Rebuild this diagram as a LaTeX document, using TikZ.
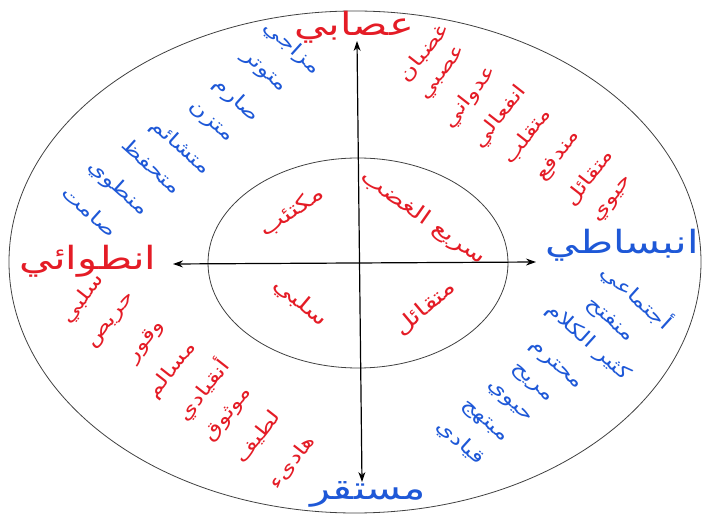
\documentclass[tikz,border=0pt]{standalone}
\usepackage{fontspec}
\usetikzlibrary{arrows.meta}
\newfontfamily\arabicfont[Script=Arabic,FakeStretch=1.3]{DejaVu Sans}
\TeXXeTstate=1
\newcommand{\ar}[1]{{\arabicfont\beginR #1\endR}}
\definecolor{tred}{RGB}{228,28,38}
\definecolor{tblue}{RGB}{30,88,215}

\begin{document}
\begin{tikzpicture}[x=1pt,y=-1pt,
    pole/.style={font=\fontsize{32}{37}\selectfont, inner sep=0pt},
    inword/.style={text=tred, font=\fontsize{21}{24}\selectfont, inner sep=0pt},
    trait/.style={font=\fontsize{19}{22}\selectfont, inner sep=0pt},
    ring/.style={draw=black!75, line width=0.8pt},
    axis/.style={line width=1.2pt, {Stealth[length=10pt,width=7pt]}-{Stealth[length=10pt,width=7pt]}}]
    \useasboundingbox (0,0) rectangle (705,518);

    % rings
    \draw[ring] (355,262) ellipse [x radius=346pt, y radius=251pt];
    \draw[ring] (358,263) ellipse [x radius=150pt, y radius=105pt];

    % axes
    \coordinate (ntip) at (357,41);
    \coordinate (stip) at (362,482);
    \coordinate (wtip) at (173,264);
    \coordinate (etip) at (536,262);
    \draw[axis] (ntip) -- (stip);
    \draw[axis] (wtip) -- (etip);

    % poles
    \node[pole, text=tred] (neuro) at (354,27) {\ar{عصابي}};
    \node[pole, text=tred] (intro) at (88,261) {\ar{انطوائي}};
    \node[pole, text=tblue] (extra) at (622,245) {\ar{انبساطي}};
    \node[pole, text=tblue] (stable) at (368,494) {\ar{مستقر}};

    % inner quadrants
    \node[inword, rotate=35] (q1) at (292,212) {\ar{مكتئب}};
    \node[inword, rotate=-35] (q2) at (423,218) {\ar{سريع الغضب}};
    \node[inword, rotate=-40] (q3) at (300,303) {\ar{سلبي}};
    \node[inword, rotate=40] (q4) at (425,308) {\ar{متقائل}};

    % upper left
    \node[trait, text=tblue, rotate=-42] (ul1) at (292,48) {\ar{مزاجي}};
    \node[trait, text=tblue, rotate=-42] (ul2) at (263,73) {\ar{متوتر}};
    \node[trait, text=tblue, rotate=-42] (ul3) at (236,100) {\ar{صارم}};
    \node[trait, text=tblue, rotate=-42] (ul4) at (210,123) {\ar{متزن}};
    \node[trait, text=tblue, rotate=-42] (ul5) at (180,147) {\ar{متشائم}};
    \node[trait, text=tblue, rotate=-42] (ul6) at (152,166) {\ar{متحفظ}};
    \node[trait, text=tblue, rotate=-42] (ul7) at (118,188) {\ar{منطوي}};
    \node[trait, text=tblue, rotate=-42] (ul8) at (90,211) {\ar{صامت}};

    % upper right
    \node[trait, text=tred, rotate=52] (ur1) at (424,53) {\ar{غضبان}};
    \node[trait, text=tred, rotate=52] (ur2) at (444,74) {\ar{عصبي}};
    \node[trait, text=tred, rotate=52] (ur3) at (470,97) {\ar{عدواني}};
    \node[trait, text=tred, rotate=52] (ur4) at (500,117) {\ar{انفعالي}};
    \node[trait, text=tred, rotate=52] (ur5) at (527,136) {\ar{متقلب}};
    \node[trait, text=tred, rotate=52] (ur6) at (559,156) {\ar{مندفع}};
    \node[trait, text=tred, rotate=52] (ur7) at (589,178) {\ar{متقائل}};
    \node[trait, text=tred, rotate=52] (ur8) at (614,200) {\ar{حيوي}};

    % lower left
    \node[trait, text=tred, rotate=52] (ll1) at (83,299) {\ar{سلبي}};
    \node[trait, text=tred, rotate=52] (ll2) at (113,322) {\ar{حريص}};
    \node[trait, text=tred, rotate=52] (ll3) at (146,342) {\ar{وقور}};
    \node[trait, text=tred, rotate=52] (ll4) at (172,370) {\ar{مسالم}};
    \node[trait, text=tred, rotate=52] (ll5) at (203,390) {\ar{أنقيادي}};
    \node[trait, text=tred, rotate=52] (ll6) at (229,415) {\ar{موثوق}};
    \node[trait, text=tred, rotate=52] (ll7) at (258,437) {\ar{لطيف}};
    \node[trait, text=tred, rotate=52] (ll8) at (292,462) {\ar{هادىء}};

    % lower right
    \node[trait, text=tblue, rotate=-42] (lr1) at (637,297) {\ar{أجتماعي}};
    \node[trait, text=tblue, rotate=-42] (lr2) at (609,321) {\ar{منفتح}};
    \node[trait, text=tblue, rotate=-42] (lr3) at (588,342) {\ar{كثير الكلام}};
    \node[trait, text=tblue, rotate=-42] (lr4) at (555,366) {\ar{محترم}};
    \node[trait, text=tblue, rotate=-42] (lr5) at (531,384) {\ar{مريح}};
    \node[trait, text=tblue, rotate=-42] (lr6) at (509,403) {\ar{حيوي}};
    \node[trait, text=tblue, rotate=-42] (lr7) at (484,422) {\ar{مبتهج}};
    \node[trait, text=tblue, rotate=-42] (lr8) at (460,443) {\ar{قيادي}};
\end{tikzpicture}
\end{document}
